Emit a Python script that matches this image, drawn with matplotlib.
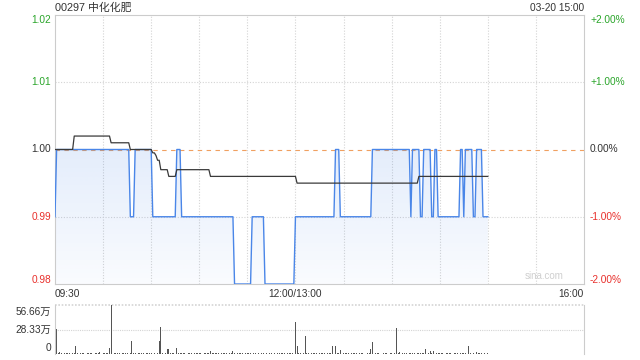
import numpy as np
import matplotlib
matplotlib.use('Agg')
import matplotlib.pyplot as plt
from matplotlib.patches import Polygon
import matplotlib.transforms as mtransforms

plt.rcParams['font.family'] = ['Liberation Sans', 'Noto Sans CJK SC', 'DejaVu Sans']

# ---------------- data ----------------
title = '00297 中化化肥'
stamp = '03-20 15:00'
prev_close = 1.00
price_ticks = [0.98, 0.99, 1.00, 1.01, 1.02]
price_labels = ['0.98', '0.99', '1.00', '1.01', '1.02']
pct_labels = ['-2.00%', '-1.00%', '0.00%', '+1.00%', '+2.00%']
time_labels = ['09:30', '12:00/13:00', '16:00']
time_pos = [0, 150, 330]
total_minutes = 330
last_minute = 270

# price: run-length (start minute, price)
price_change_min = [0, 1, 47, 50, 61, 76, 79, 112, 123, 131, 150, 175, 178, 198,
                    222, 223, 228, 230, 235, 237, 239, 253, 255, 256, 261, 263, 267]
price_change_val = [0.99, 1.00, 0.99, 1.00, 0.99, 1.00, 0.99, 0.98, 0.99, 0.98, 0.99,
                    1.00, 0.99, 1.00, 0.99, 1.00, 0.99, 1.00, 0.99, 1.00, 0.99, 1.00,
                    0.99, 1.00, 0.99, 1.00, 0.99]

# average price: run-length
avg_change_min = [0, 12, 35, 47, 61, 63, 64, 66, 71, 76, 97, 151, 227]
avg_change_val = [1.000, 1.002, 1.001, 1.000, 0.9995, 0.9991, 0.9984, 0.997, 0.996,
                  0.997, 0.996, 0.995, 0.996]

# volume (万) per minute, small baseline values
vol_base = [
    0.6, 0.9, 0.7, 1.2, 0.8, 0.5, 0.9, 0.6, 0.7, 1.0,
    0.5, 0.8, 0.6, 0.9, 0.7, 0.4, 0.8, 0.6, 1.0, 0.5,
    0.7, 0.9, 0.6, 0.8, 0.5, 0.7, 1.1, 0.6, 0.8, 0.5,
    0.9, 0.6, 0.7, 1.0, 0.8, 0.6, 0.5, 0.9, 0.7, 0.6,
    0.8, 0.5, 1.0, 0.7, 0.6, 0.9, 0.5, 0.8, 0.6, 0.7,
    0.9, 0.5, 0.7, 0.8, 0.6, 1.0, 0.5, 0.7, 0.9, 0.6,
    0.8, 0.5, 0.6, 0.9, 0.7, 0.8, 0.5, 1.0, 0.6, 0.7,
    0.5, 0.8, 0.9, 0.6, 0.7, 0.5, 0.8, 0.6, 1.0, 0.7,
    0.6, 0.9, 0.5, 0.7, 0.8, 0.6, 0.5, 0.9, 0.7, 0.6,
    0.8, 1.0, 0.5, 0.7, 0.6, 0.9, 0.8, 0.5, 0.7, 0.6,
    0.9, 0.6, 0.8, 0.5, 0.7, 1.0, 0.6, 0.8, 0.5, 0.7,
    0.6, 0.9, 0.7, 0.5, 0.8, 0.6, 1.0, 0.7, 0.5, 0.9,
    0.6, 0.8, 0.7, 0.5, 0.9, 0.6, 0.7, 1.0, 0.5, 0.8,
    0.7, 0.6, 0.9, 0.5, 0.8, 0.7, 0.6, 1.0, 0.5, 0.7,
    0.8, 0.6, 0.9, 0.7, 0.5, 0.8, 0.6, 0.7, 1.0, 0.5,
    0.9, 0.7, 0.6, 0.8, 0.5, 0.7, 0.9, 0.6, 0.8, 0.5,
    0.7, 1.0, 0.6, 0.8, 0.5, 0.9, 0.7, 0.6, 0.8, 0.5,
    1.0, 0.7, 0.6, 0.9, 0.5, 0.8, 0.7, 0.6, 0.9, 0.5,
    0.8, 0.6, 1.0, 0.7, 0.5, 0.9, 0.6, 0.8, 0.7, 0.5,
    0.9, 0.6, 0.8, 0.5, 0.7, 1.0, 0.6, 0.8, 0.5, 0.7,
    0.6, 0.9, 0.7, 0.5, 0.8, 0.6, 1.0, 0.7, 0.5, 0.9,
    0.7, 0.5, 0.8, 0.6, 0.9, 0.7, 0.5, 1.0, 0.6, 0.8,
    0.5, 0.7, 0.9, 0.6, 0.8, 0.5, 0.7, 1.0, 0.6, 0.8,
    0.6, 0.9, 0.5, 0.7, 0.8, 0.6, 1.0, 0.5, 0.7, 0.9,
    0.8, 0.6, 0.7, 0.5, 0.9, 0.6, 0.8, 1.0, 0.5, 0.7,
    0.6, 0.8, 0.5, 0.9, 0.7, 0.6, 1.0, 0.5, 0.8, 0.7,
    0.5, 0.9, 0.6, 0.8, 0.7, 0.5, 1.0, 0.6, 0.9, 0.5,
    0.7]
vol_spike_min = [1, 3, 13, 28, 34, 35, 48, 53, 65, 66, 70, 71, 76, 97, 111, 136, 150,
                 151, 156, 167, 173, 175, 176, 178, 197, 198, 210, 213, 215, 227, 229,
                 231, 234, 236, 255, 258, 262, 263, 265]
vol_spike_val = [29.0, 2.7, 9.3, 2.5, 7.3, 56.66, 15.4, 1.5, 15.4, 31.7, 5.8, 5.8, 7.3,
                 3.5, 3.5, 5.8, 37.0, 9.3, 20.8, 1.5, 9.3, 9.3, 1.5, 4.6, 5.8, 13.9,
                 1.5, 30.0, 2.3, 1.5, 1.5, 5.8, 3.5, 3.5, 1.5, 9.3, 2.3, 2.3, 1.0]
vol_ticks = [0, 28.33, 56.66]
vol_labels = ['0', '28.33万', '56.66万']

# ---------------- build series ----------------
minutes = np.arange(last_minute + 1)


def expand(starts, vals, n):
    ends = list(starts[1:]) + [n]
    return np.repeat(vals, np.diff(list(starts) + [n]))


price = expand(price_change_min, price_change_val, last_minute + 1)
avg = expand(avg_change_min, avg_change_val, last_minute + 1)
vol = np.array(vol_base, dtype=float)
vol[vol_spike_min] = vol_spike_val

# ---------------- figure ----------------
W, H = 640, 360
fig = plt.figure(figsize=(6.4, 3.6), dpi=100)
fig.patch.set_facecolor('white')


def rect(l, t, r, b):
    return [l / W, 1 - b / H, (r - l) / W, (b - t) / H]


ax = fig.add_axes(rect(55, 15, 584, 284))
axv = fig.add_axes(rect(55, 305, 584, 354))

ymin, ymax = 0.98, 1.02
ax.set_xlim(0, total_minutes)
ax.set_ylim(ymin, ymax)

grid_c = '#d4d4d4'
for xm in range(30, total_minutes, 30):
    ax.axvline(xm, color=grid_c, lw=0.8, ls=(0, (1, 1.5)), zorder=0)
for yv in [0.99, 1.01]:
    ax.axhline(yv, color=grid_c, lw=0.8, ls=(0, (1, 1.5)), zorder=0)
ax.axhline(prev_close, color='#f0a060', lw=0.8, ls=(0, (4, 4)), zorder=1)

# gradient fill under price
verts = np.column_stack([np.r_[minutes, minutes[-1], minutes[0]],
                         np.r_[price, ymin, ymin]])
poly = Polygon(verts, closed=True, facecolor='none', edgecolor='none')
ax.add_patch(poly)
n = 256
alpha = np.linspace(0.15, 0.03, n)
rgba = np.zeros((n, 1, 4))
rgba[..., 0] = 74 / 255
rgba[..., 1] = 134 / 255
rgba[..., 2] = 232 / 255
rgba[:, 0, 3] = alpha
im = ax.imshow(rgba, extent=[0, last_minute, ymin, prev_close], aspect='auto',
               origin='upper', zorder=1, interpolation='bilinear')
im.set_clip_path(poly)
ax.set_xlim(0, total_minutes)
ax.set_ylim(ymin, ymax)

ax.plot(minutes, price, color='#4a86e8', lw=1.0, zorder=3)
ax.plot(minutes, avg, color='#3a3a3a', lw=0.9, zorder=4)

for s in ax.spines.values():
    s.set_color('#cccccc')
    s.set_linewidth(0.8)
ax.set_xticks([])
ax.set_yticks([])

# price labels
fs = 7.3
trL = mtransforms.blended_transform_factory(ax.transAxes, ax.transData)
col_map = {0.98: '#e8302c', 0.99: '#e8302c', 1.00: '#333333', 1.01: '#2aa52a', 1.02: '#2aa52a'}
for yv, lab, pl in zip(price_ticks, price_labels, pct_labels):
    off = 0
    if yv == ymax:
        off = -5
    elif yv == ymin:
        off = 4
    c = col_map[yv]
    ax.annotate(lab, (0, yv), xycoords=trL, xytext=(-4, off), textcoords='offset pixels',
                ha='right', va='center', fontsize=fs, color=c)
    ax.annotate(pl, (1, yv), xycoords=trL, xytext=(6, off), textcoords='offset pixels',
                ha='left', va='center', fontsize=fs, color=c)

# time labels
trB = mtransforms.blended_transform_factory(ax.transData, ax.transAxes)
has = ['left', 'center', 'right']
for xp, lab, ha in zip(time_pos, time_labels, has):
    ax.annotate(lab, (xp, 0), xycoords=trB, xytext=(0, -10), textcoords='offset pixels',
                ha=ha, va='center', fontsize=fs, color='#333333')

fig.text(55 / W, 1 - 8 / H, title, ha='left', va='center', fontsize=7.8, color='#333333')
fig.text(584 / W, 1 - 8 / H, stamp, ha='right', va='center', fontsize=7.3, color='#333333')
ax.text(0.925, 0.03, 'sina.com', transform=ax.transAxes, ha='center', va='center',
        fontsize=7, color='#cfcfcf')

# volume
axv.set_xlim(0, total_minutes)
axv.set_ylim(0, vol_ticks[-1])
axv.bar(minutes, vol, width=0.6, color='#555555', linewidth=0, zorder=2)
axv.axhline(vol_ticks[1], color=grid_c, lw=0.8, ls=(0, (1, 1)), zorder=0)
axv.axhline(vol_ticks[2], color=grid_c, lw=1.2, ls=(0, (1, 1)), zorder=0, clip_on=False)
axv.spines['top'].set_visible(False)
axv.spines['bottom'].set_visible(False)
for sp in ['left', 'right']:
    axv.spines[sp].set_color('#cccccc')
    axv.spines[sp].set_linewidth(0.8)
axv.set_xticks([])
axv.set_yticks([])
trV = mtransforms.blended_transform_factory(axv.transAxes, axv.transData)
for yv, lab in zip(vol_ticks, vol_labels):
    off = 0
    if yv == vol_ticks[-1]:
        off = -7
    elif yv == 0:
        off = 6
    axv.annotate(lab, (0, yv), xycoords=trV, xytext=(-4, off), textcoords='offset pixels',
                 ha='right', va='center', fontsize=fs, color='#333333')

fig.savefig('out.png', dpi=100)
